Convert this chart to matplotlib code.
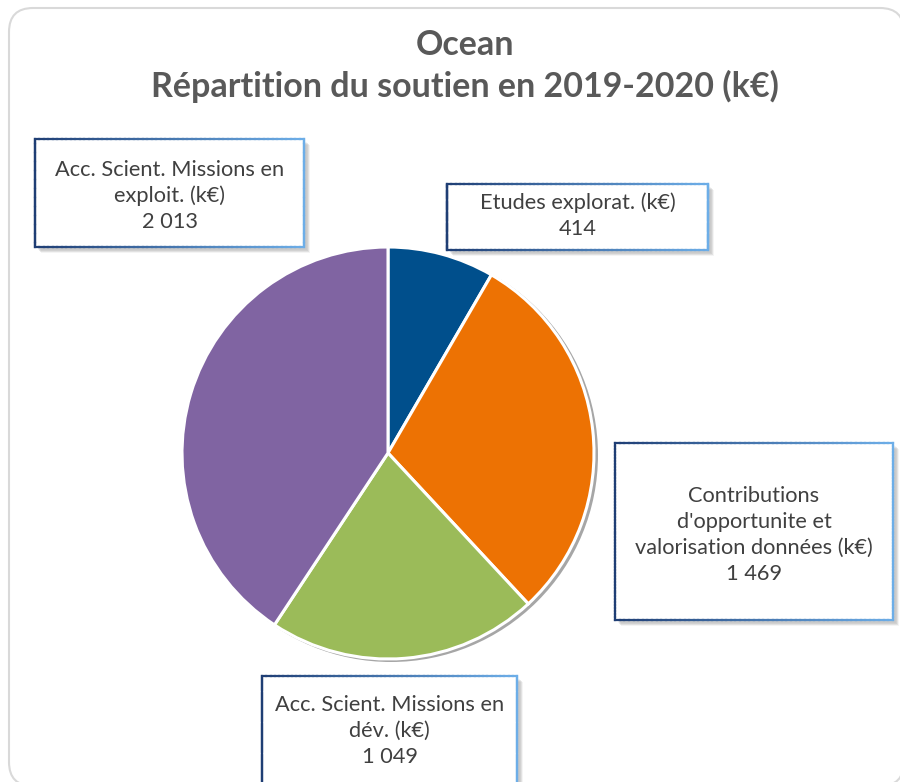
import numpy as np
import matplotlib as mpl
mpl.use("Agg")
from matplotlib import pyplot as plt
from matplotlib.patches import FancyBboxPatch, Circle, Rectangle
from matplotlib.collections import LineCollection
from matplotlib.colors import to_rgb

plt.rcParams['font.family'] = ['Lato', 'DejaVu Sans']

# données du soutien (k€)
labels = ["Etudes explorat. (k€)",
          "Contributions\nd'opportunite et\nvalorisation données (k€)",
          "Acc. Scient. Missions en\ndév. (k€)",
          "Acc. Scient. Missions en\nexploit. (k€)"]
values = [414, 1469, 1049, 2013]
colors = ["#004F8C", "#ED7203", "#9BBB59", "#8064A2"]
title = "Ocean\nRépartition du soutien en 2019-2020 (k€)"

W, H = 900, 782
FS = 15.7

fig = plt.figure(figsize=(W / 100, H / 100), dpi=100)
ax = fig.add_axes([0, 0, 1, 1])


def Y(y):
    # coordonnées écran -> coordonnées axes
    return H - y


# cadre du graphique
ax.add_patch(FancyBboxPatch((9, Y(786)), 895, 778,
                            boxstyle="round,pad=0,rounding_size=24",
                            facecolor="white", edgecolor="#D9D9D9", lw=1.5, zorder=0))

ax.text(465, Y(66), title, ha='center', va='center', fontsize=24.5, fontweight='bold',
        color="#595959", linespacing=1.36, zorder=5)

# camembert avec ombre grise
cx, cy, r = 388, 453, 206
ax.add_patch(Circle((cx + 3, Y(cy + 2)), r + 1, facecolor="#A6A6A6", edgecolor="none", zorder=1))
ax.pie(values, colors=colors, startangle=90, counterclock=False,
       center=(cx, Y(cy)), radius=r, frame=True,
       wedgeprops=dict(edgecolor="white", linewidth=2.2, zorder=2))
ax.set_xlim(0, W)
ax.set_ylim(0, H)
ax.set_aspect('equal')
ax.axis('off')


def label_box(x0, y0, x1, y1):
    # ombre floue en bas à droite
    for k in range(6):
        ax.add_patch(Rectangle((x0 + 3 + k * 0.6, Y(y1 + 3 + k * 0.6)), x1 - x0, y1 - y0,
                               facecolor="#7F7F7F", edgecolor="none", alpha=0.08, zorder=3))
    ax.add_patch(Rectangle((x0, Y(y1)), x1 - x0, y1 - y0, facecolor="white",
                           edgecolor="none", zorder=4))
    # bordure en dégradé bleu foncé -> bleu clair
    c0, c1 = np.array(to_rgb("#1F3E74")), np.array(to_rgb("#6DAEE8"))
    pts = [(x0, y0), (x1, y0), (x1, y1), (x0, y1), (x0, y0)]
    segs, cols = [], []
    for (ax0, ay0), (ax1, ay1) in zip(pts[:-1], pts[1:]):
        n = 60
        xs = np.linspace(ax0, ax1, n + 1)
        ys = np.linspace(ay0, ay1, n + 1)
        for i in range(n):
            segs.append([(xs[i], Y(ys[i])), (xs[i + 1], Y(ys[i + 1]))])
            t = ((xs[i] + xs[i + 1]) / 2 - x0) / (x1 - x0)
            cols.append(c0 + (c1 - c0) * t)
    ax.add_collection(LineCollection(segs, colors=cols, linewidths=1.6, zorder=5,
                                     capstyle='projecting'))


boxes = [(447, 184, 708, 250),
         (615, 443, 893, 620),
         (262, 676, 517, 800),
         (35, 139, 304, 247)]
text_y = [216, 535, 731, 196]
for (x0, y0, x1, y1), ty, lab, v in zip(boxes, text_y, labels, values):
    label_box(x0, y0, x1, y1)
    txt = lab + "\n" + f"{v:,}".replace(",", " ")
    ax.text((x0 + x1) / 2, Y(ty), txt, ha='center', va='center', fontsize=FS,
            color="#404040", linespacing=1.36, zorder=6)

fig.savefig("out.png", dpi=100)
